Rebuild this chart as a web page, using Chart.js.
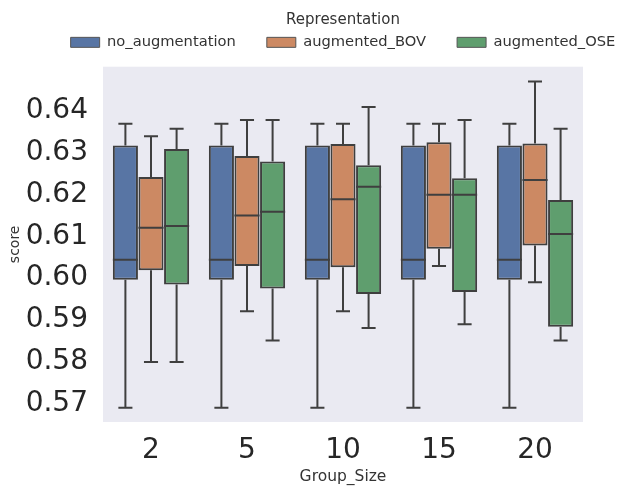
<!DOCTYPE html>
<html>
<head>
<meta charset="utf-8">
<script src="https://cdn.jsdelivr.net/npm/chart.js@4.4.0/dist/chart.umd.min.js"></script>
<style>
  html, body { margin: 0; padding: 0; background: #ffffff; }
  #wrap { width: 626px; height: 487px; }
</style>
</head>
<body>
<div id="wrap"><canvas id="myChart"></canvas></div>
<script>
'use strict';
// group sizes on the x axis
let groupSizes = ['2', '5', '10', '15', '20'];
// each entry: [lower whisker, q1, median, q3, upper whisker]
let noAugmentation = [
    [0.5684, 0.5989, 0.6037, 0.6309, 0.6361],
    [0.5684, 0.5989, 0.6037, 0.6309, 0.6361],
    [0.5684, 0.5989, 0.6037, 0.6309, 0.6361],
    [0.5684, 0.5989, 0.6037, 0.6309, 0.6361],
    [0.5684, 0.5989, 0.6037, 0.6309, 0.6361]
];
let augmentedBOV = [
    [0.5793, 0.6012, 0.6113, 0.6234, 0.6331],
    [0.5914, 0.6022, 0.6142, 0.6284, 0.6370],
    [0.5914, 0.6019, 0.6181, 0.6313, 0.6361],
    [0.6022, 0.6063, 0.6192, 0.6317, 0.6361],
    [0.5983, 0.6071, 0.6227, 0.6314, 0.6462]
];
let augmentedOSE = [
    [0.5793, 0.5978, 0.6117, 0.6301, 0.6349],
    [0.5844, 0.5968, 0.6151, 0.6271, 0.6370],
    [0.5874, 0.5955, 0.6211, 0.6262, 0.6401],
    [0.5883, 0.5960, 0.6192, 0.6231, 0.6370],
    [0.5844, 0.5877, 0.6098, 0.6179, 0.6349]
];
let yTicks = [0.57, 0.58, 0.59, 0.60, 0.61, 0.62, 0.63, 0.64];

let seriesNames = ['no_augmentation', 'augmented_BOV', 'augmented_OSE'];
let seriesStats = [noAugmentation, augmentedBOV, augmentedOSE];
let seriesColors = ['#5875a4', '#cc8963', '#5f9e6e'];
let edgeColor = '#3f3f3f';

let datasets = [];
for (let i = 0; i < seriesNames.length; i++) {
    datasets.push({
        label: seriesNames[i],
        data: seriesStats[i].map(s => [s[1], s[3]]),
        backgroundColor: seriesColors[i],
        borderColor: edgeColor,
        borderWidth: 2,
        borderSkipped: false,
        categoryPercentage: 0.8,
        barPercentage: 0.98
    });
}

// draws medians and whiskers on top of the floating bars
const boxWhiskers = {
    id: 'boxWhiskers',
    afterDatasetsDraw(chart) {
        let ctx = chart.ctx;
        let y = chart.scales.y;
        ctx.save();
        ctx.strokeStyle = edgeColor;
        ctx.lineWidth = 2;
        chart.data.datasets.forEach((ds, i) => {
            let meta = chart.getDatasetMeta(i);
            meta.data.forEach((bar, j) => {
                let s = seriesStats[i][j];
                let half = bar.width / 2;
                let cap = bar.width * 0.28;
                ctx.beginPath();
                // median
                ctx.moveTo(bar.x - half, y.getPixelForValue(s[2]));
                ctx.lineTo(bar.x + half, y.getPixelForValue(s[2]));
                // whiskers
                ctx.moveTo(bar.x, y.getPixelForValue(s[3]));
                ctx.lineTo(bar.x, y.getPixelForValue(s[4]));
                ctx.moveTo(bar.x, y.getPixelForValue(s[1]));
                ctx.lineTo(bar.x, y.getPixelForValue(s[0]));
                // caps
                ctx.moveTo(bar.x - cap, y.getPixelForValue(s[4]));
                ctx.lineTo(bar.x + cap, y.getPixelForValue(s[4]));
                ctx.moveTo(bar.x - cap, y.getPixelForValue(s[0]));
                ctx.lineTo(bar.x + cap, y.getPixelForValue(s[0]));
                ctx.stroke();
            });
        });
        ctx.restore();
    }
};

const plotBackground = {
    id: 'plotBackground',
    beforeDraw(chart) {
        let a = chart.chartArea;
        chart.ctx.save();
        chart.ctx.fillStyle = '#eaeaf2';
        chart.ctx.fillRect(a.left, a.top, a.right - a.left, a.bottom - a.top);
        chart.ctx.restore();
    }
};

// keep legend on one row, a bit taller, and centred over the plot area
const legendLayout = {
    id: 'legendLayout',
    beforeLayout(chart) {
        let lg = chart.legend;
        if (lg && !lg.patched) {
            let fit = lg.fit;
            lg.fit = function () {
                this.maxWidth = 700;
                fit.call(this);
                this.height += 7;
            };
            lg.patched = true;
        }
    },
    afterLayout(chart) {
        let lg = chart.legend;
        let a = chart.chartArea;
        let mid = (a.left + a.right) / 2;
        lg.left = mid - 330;
        lg.right = mid + 330;
        lg.width = 660;
    }
};

Chart.defaults.font.family = '"DejaVu Sans", sans-serif';
Chart.defaults.color = '#262626';

let ctx = document.getElementById('myChart').getContext('2d');
let myChart = new Chart(ctx, {
    type: 'bar',
    data: { labels: groupSizes, datasets: datasets },
    options: {
        responsive: true,
        maintainAspectRatio: false,
        animation: false,
        layout: { padding: { left: 4, right: 43, top: 10, bottom: 0 } },
        plugins: {
            legend: {
                position: 'top',
                title: { display: true, text: 'Representation', color: '#333', font: { size: 15 }, padding: { top: 3, bottom: -27 } },
                labels: {
                    boxWidth: 29, boxHeight: 10, color: '#333', font: { size: 14.7 }, padding: 31,
                    generateLabels: chart => Chart.defaults.plugins.legend.labels.generateLabels(chart)
                        .map(l => Object.assign(l, { lineWidth: 1, strokeStyle: '#555' }))
                }
            },
            tooltip: { enabled: false }
        },
        scales: {
            x: {
                grid: { display: false, drawTicks: false },
                border: { display: false },
                ticks: { font: { size: 28 }, padding: 12 },
                title: { display: true, text: 'Group_Size', color: '#333', font: { size: 15.5 }, padding: { top: 0, bottom: 1 } },
                afterFit: axis => { axis.height = 65; }
            },
            y: {
                min: 0.565,
                max: 0.6497,
                grid: { display: false, drawTicks: false },
                border: { display: false },
                afterBuildTicks: axis => { axis.ticks = yTicks.map(v => ({ value: v })); },
                ticks: { font: { size: 28 }, padding: 15, labelOffset: 3, callback: v => v.toFixed(2) },
                title: { display: true, text: 'score', color: '#333', font: { size: 14 }, padding: { top: 3, bottom: 0 } },
                afterFit: axis => { axis.width = 99; }
            }
        }
    },
    plugins: [plotBackground, boxWhiskers, legendLayout]
});
</script>
</body>
</html>
